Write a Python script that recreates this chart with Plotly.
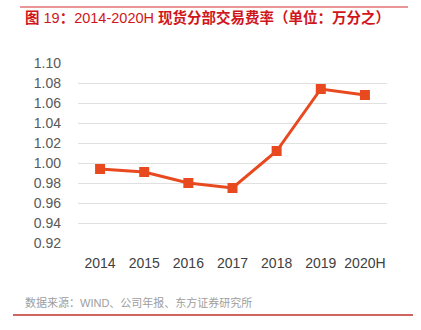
import plotly.graph_objects as go

# Spot segment trading fee rate (unit: 1/10000)
years = ["2014", "2015", "2016", "2017", "2018", "2019", "2020H"]
fee_rate = [0.994, 0.991, 0.980, 0.975, 1.012, 1.074, 1.068]
y_ticks = [0.92, 0.94, 0.96, 0.98, 1.00, 1.02, 1.04, 1.06, 1.08, 1.10]

title_text = "<b>图</b> 19<b>：</b>2014-2020H <b>现货分部交易费率（单位：万分之）</b>"
source_text = "数据来源：WIND、公司年报、东方证券研究所"

font_family = "Liberation Sans, Noto Sans CJK SC, Arial, sans-serif"

fig = go.Figure()
fig.add_trace(go.Scatter(
    x=list(range(len(years))),
    y=fee_rate,
    mode="lines+markers",
    line=dict(color="#E8491E", width=3),
    marker=dict(symbol="square", size=10, color="#E8491E"),
    hoverinfo="skip",
))

fig.update_layout(
    width=421, height=330,
    margin=dict(l=78, r=34, t=63, b=87),
    paper_bgcolor="white", plot_bgcolor="white",
    showlegend=False,
    font=dict(family=font_family, color="#595959", size=14),
    xaxis=dict(
        range=[-0.5, len(years) - 0.5],
        tickmode="array",
        tickvals=list(range(len(years))),
        ticktext=years,
        showgrid=False, zeroline=False, showline=False,
        ticks="", fixedrange=True,
        ticklabelstandoff=10,
        tickfont=dict(size=14, color="#404040"),
    ),
    yaxis=dict(
        range=[0.92, 1.10],
        tickmode="array",
        tickvals=y_ticks,
        ticktext=[f"{v:.2f}" for v in y_ticks],
        showgrid=True, gridcolor="#E0E0E0", gridwidth=1,
        zeroline=False, showline=False, ticks="",
        ticklen=0, fixedrange=True,
        ticklabelstandoff=16,
        tickfont=dict(size=14, color="#595959"),
    ),
    shapes=[
        dict(type="line", xref="paper", yref="paper",
             x0=-58 / 309, x1=330 / 309, y0=1 + 56 / 180, y1=1 + 56 / 180,
             line=dict(color="#E57373", width=1.5)),
        dict(type="line", xref="paper", yref="paper",
             x0=-65 / 309, x1=335 / 309, y0=-72 / 180, y1=-72 / 180,
             line=dict(color="#C0302A", width=1.5)),
    ],
    annotations=[
        dict(text=title_text, xref="paper", yref="paper",
             x=-55 / 309, y=1 + 46 / 180, xanchor="left", yanchor="middle",
             showarrow=False,
             font=dict(size=14.5, color="#D0161B", family=font_family)),
        dict(text=source_text, xref="paper", yref="paper",
             x=-55 / 309, y=-59 / 180, xanchor="left", yanchor="middle",
             showarrow=False,
             font=dict(size=11, color="#9E9E9E", family=font_family)),
    ],
)

fig.write_html("out.html")
